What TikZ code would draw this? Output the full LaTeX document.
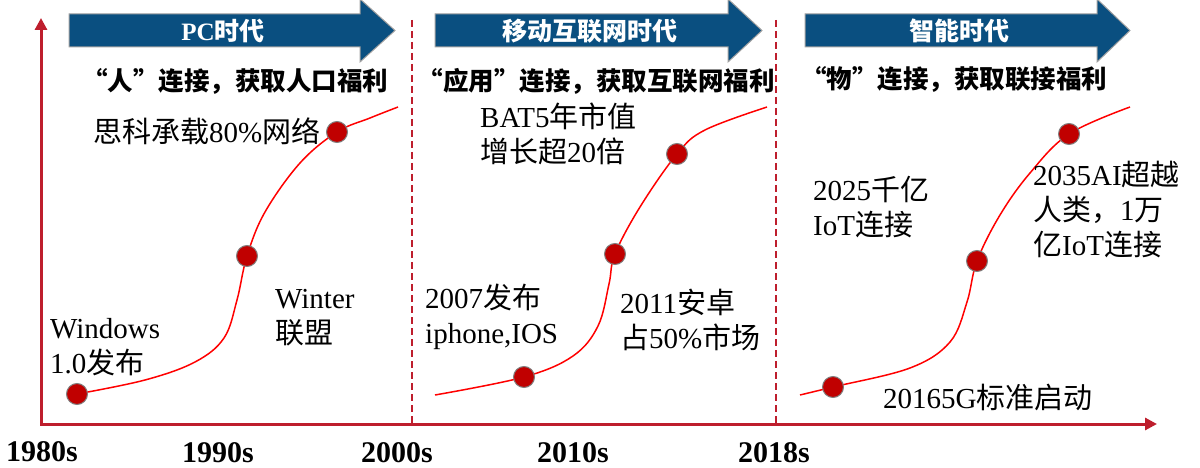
\documentclass[tikz,border=0pt]{standalone}
\usepackage{fontspec}
\setmainfont{Liberation Serif}
\newfontfamily\cjk{Noto Sans CJK SC}
\usetikzlibrary{arrows.meta}
\definecolor{axisred}{RGB}{190,30,45}
\definecolor{curvered}{RGB}{255,0,0}
\definecolor{dotred}{RGB}{192,0,0}
\definecolor{dotgray}{RGB}{128,128,128}
\definecolor{bannerblue}{RGB}{10,79,128}
\definecolor{bannerline}{RGB}{160,160,160}
\newcommand\zh[1]{{\cjk#1}}
\tikzset{
  axisline/.style={draw=axisred,line width=3pt,{Triangle[length=12pt,width=12pt]}-{Triangle[length=12pt,width=12pt]}},
  eraline/.style={draw=axisred,line width=1.2pt,dash pattern=on 7pt off 4pt},
  growth/.style={draw=curvered,line width=1.5pt,smooth,tension=0.6},
  dot/.style={circle,fill=dotred,draw=dotgray,line width=1pt,minimum size=21pt,inner sep=0pt},
  banner/.style={fill=bannerblue,draw=bannerline,line width=1pt},
  bannertext/.style={text=white,font=\bfseries\fontsize{25}{30}\selectfont,inner sep=0pt},
  subtitle/.style={font=\bfseries\fontsize{25.5}{30}\selectfont,inner sep=0pt},
  event/.style={font=\fontsize{29}{35}\selectfont,align=left,inner sep=0pt,anchor=base west},
  year/.style={font=\bfseries\fontsize{30}{36}\selectfont,inner sep=0pt,anchor=base},
}
\begin{document}
\begin{tikzpicture}[x=1pt,y=-1pt]
\useasboundingbox (0,0) rectangle (1200,468);
% banners
\path[banner] (69,14) -- (360,14) -- (360,-1) -- (395,30.5) -- (360,62) -- (360,47) -- (69,47) -- cycle;
\path[banner] (435,14) -- (728,14) -- (728,-1) -- (762,30.5) -- (728,62) -- (728,47) -- (435,47) -- cycle;
\path[banner] (805,14) -- (1097,14) -- (1097,-1) -- (1130,30.5) -- (1097,62) -- (1097,47) -- (805,47) -- cycle;
\node[bannertext] (b1) at (223,31) {PC\zh{时代}};
\node[bannertext] (b2) at (590,31) {\zh{移动互联网时代}};
\node[bannertext] (b3) at (959,31) {\zh{智能时代}};
% subtitles
\node[subtitle] (s1) at (235,81) {\zh{“人”连接，获取人口福利}};
\node[subtitle] (s2) at (596,81) {\zh{“应用”连接，获取互联网福利}};
\node[subtitle] (s3) at (954,79) {\zh{“物”连接，获取联接福利}};
% era separators
\coordinate (v1t) at (412,20); \coordinate (v1b) at (412,424);
\coordinate (v2t) at (776,20); \coordinate (v2b) at (776,424);
\draw[eraline] (v1t) -- (v1b);
\draw[eraline] (v2t) -- (v2b);
% axes
\coordinate (O) at (41,424);
\coordinate (ytip) at (41,18);
\coordinate (xtip) at (1157,424);
\draw[axisline] (ytip) -- (O) -- (xtip);
% years
\node[year] (y1) at (42,461) {1980s};
\node[year] (y2) at (218,462) {1990s};
\node[year] (y3) at (397,462) {2000s};
\node[year] (y4) at (573,462) {2010s};
\node[year] (y5) at (774,462) {2018s};
% curve points
\coordinate (p11) at (77,394);  \coordinate (p12) at (247,256); \coordinate (p13) at (337,132);
\coordinate (p21) at (524,377); \coordinate (p22) at (615,254); \coordinate (p23) at (677,154);
\coordinate (p31) at (833,387); \coordinate (p32) at (977,261); \coordinate (p33) at (1069,134);
\coordinate (e1) at (398,107); \coordinate (s2s) at (435,395); \coordinate (e2) at (767,107);
\coordinate (s3s) at (800,395); \coordinate (e3) at (1130,107);
\draw[growth] plot coordinates {(p11) (145,380) (195,362) (224,338) (237,300) (p12) (265,212) (300,163) (p13) (370,118) (e1)};
\draw[growth] plot coordinates {(s2s) (p21) (573,356) (598,326) (609,284) (p22) (640,207) (p23) (705,130) (e2)};
\draw[growth] plot coordinates {(s3s) (p31) (910,368) (950,342) (967,302) (p32) (1000,215) (1030,173) (p33) (e3)};
\foreach \p in {p11,p12,p13,p21,p22,p23,p31,p32,p33}{\node[dot] (d\p) at (\p) {};}
% events (anchored at the baseline of the last line)
\node[event] (t1) at (93,143) {\zh{思科承载}80\%\zh{网络}};
\node[event] (t2) at (50,373) {Windows\\1.0\zh{发布}};
\node[event] (t3) at (275,343) {Winter\\\zh{联盟}};
\node[event] (t4) at (480,163) {BAT5\zh{年市值}\\\zh{增长超}20\zh{倍}};
\node[event] (t5) at (425,343) {2007\zh{发布}\\iphone,IOS};
\node[event] (t6) at (620,348) {2011\zh{安卓}\\\zh{占}50\%\zh{市场}};
\node[event] (t7) at (813,235) {2025\zh{千亿}\\IoT\zh{连接}};
\node[event] (t8) at (1033,255) {2035AI\zh{超越}\\\zh{人类，}1\zh{万}\\\zh{亿}IoT\zh{连接}};
\node[event] (t9) at (883,408) {20165G\zh{标准启动}};
\end{tikzpicture}
\end{document}
